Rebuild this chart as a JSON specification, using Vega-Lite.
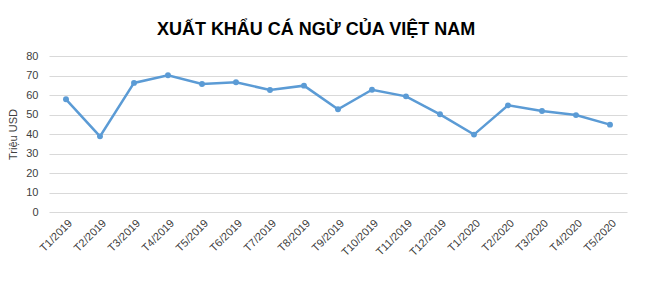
{
  "$schema": "https://vega.github.io/schema/vega-lite/v6.json",
  "autosize": {"type": "none"},
  "padding": {"left": 49, "top": 56, "right": 23, "bottom": 70},
  "width": 578,
  "height": 156,
  "background": "white",
  "title": {
    "text": "XUẤT KHẨU CÁ NGỪ CỦA VIỆT NAM",
    "font": "Liberation Sans",
    "fontSize": 18,
    "fontWeight": "bold",
    "color": "#000000",
    "anchor": "middle",
    "dx": -22,
    "offset": 11
  },
  "data": {
    "values": [
      {"thang": "T1/2019", "gia_tri": 57.8},
      {"thang": "T2/2019", "gia_tri": 38.8},
      {"thang": "T3/2019", "gia_tri": 66.2},
      {"thang": "T4/2019", "gia_tri": 70.1},
      {"thang": "T5/2019", "gia_tri": 65.6},
      {"thang": "T6/2019", "gia_tri": 66.5},
      {"thang": "T7/2019", "gia_tri": 62.6},
      {"thang": "T8/2019", "gia_tri": 64.8},
      {"thang": "T9/2019", "gia_tri": 52.7},
      {"thang": "T10/2019", "gia_tri": 62.7},
      {"thang": "T11/2019", "gia_tri": 59.3},
      {"thang": "T12/2019", "gia_tri": 50.1},
      {"thang": "T1/2020", "gia_tri": 39.7},
      {"thang": "T2/2020", "gia_tri": 54.7},
      {"thang": "T3/2020", "gia_tri": 51.8},
      {"thang": "T4/2020", "gia_tri": 49.7},
      {"thang": "T5/2020", "gia_tri": 44.8}
    ]
  },
  "mark": {
    "type": "line",
    "color": "#5b9bd5",
    "strokeWidth": 2.5,
    "point": {"filled": true, "color": "#5b9bd5", "size": 35}
  },
  "encoding": {
    "x": {
      "field": "thang",
      "type": "ordinal",
      "sort": null,
      "scale": {"type": "point", "padding": 0.5},
      "axis": {
        "title": null,
        "labelAngle": -45,
        "labelFont": "Liberation Sans",
        "labelFontSize": 11,
        "labelColor": "#404040",
        "domain": false,
        "ticks": false,
        "labelPadding": 5,
        "grid": false
      }
    },
    "y": {
      "field": "gia_tri",
      "type": "quantitative",
      "scale": {"domain": [0, 80], "nice": false},
      "axis": {
        "title": "Triệu USD",
        "titleFont": "Liberation Sans",
        "titleFontSize": 11,
        "titleFontWeight": "normal",
        "titleColor": "#404040",
        "titlePadding": 7,
        "values": [0, 10, 20, 30, 40, 50, 60, 70, 80],
        "labelFont": "Liberation Sans",
        "labelFontSize": 11,
        "labelColor": "#404040",
        "labelPadding": 11,
        "domain": false,
        "ticks": false,
        "grid": true,
        "gridColor": "#d9d9d9",
        "gridWidth": 1
      }
    }
  },
  "config": {"view": {"stroke": null}}
}
